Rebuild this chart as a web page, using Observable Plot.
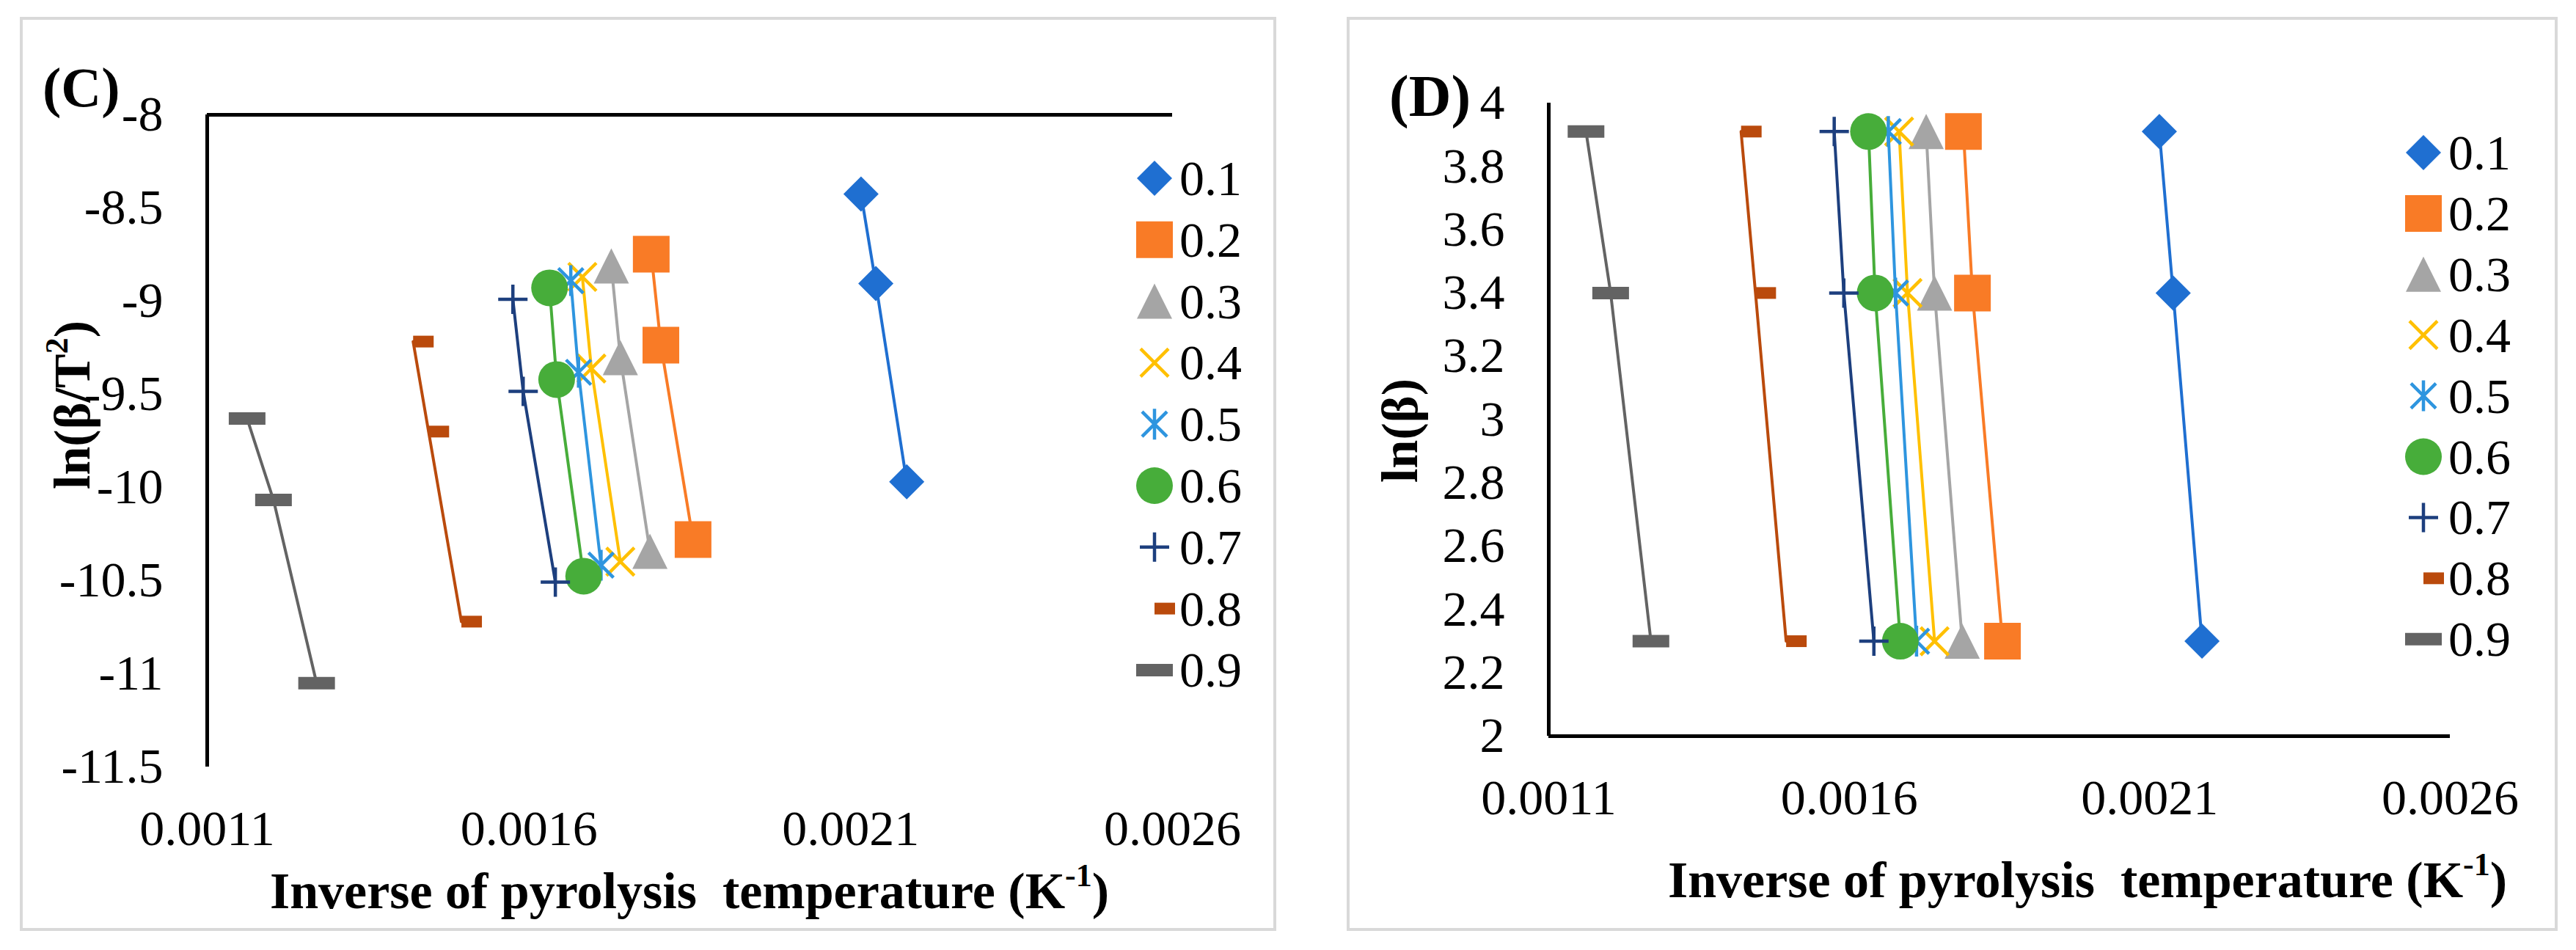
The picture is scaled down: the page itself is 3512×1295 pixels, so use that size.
<!DOCTYPE html>
<html>
<head>
<meta charset="utf-8">
<script src="https://cdn.jsdelivr.net/npm/d3@7"></script>
<script src="https://cdn.jsdelivr.net/npm/@observablehq/plot@0.6"></script>
<style>
html, body { margin: 0; padding: 0; background: #fff; }
#root { position: relative; width: 3512px; height: 1295px; overflow: hidden; background: #fff;
  font-family: "Liberation Serif", "Times New Roman", serif; }
.frame { position: absolute; border: 4px solid #d9d9d9; box-sizing: border-box; }
#root > svg { position: absolute; top: 0; }
</style>
</head>
<body>
<div id="root"></div>
<script>
// ---------------- data ----------------
const series = ["0.1", "0.2", "0.3", "0.4", "0.5", "0.6", "0.7", "0.8", "0.9"];
const colors = ["#1f6fd1", "#f97b26", "#a5a5a5", "#ffc000", "#2e95df", "#47ad3a", "#1d3f7e", "#ba4a0c", "#636363"];
const markers = ["diamond", "square", "triangle", "times", "asterisk", "circle", "plus", "shortDash", "longDash"];

const xDomain = [0.0011, 0.0026];
const xTicks = [0.0011, 0.0016, 0.0021, 0.0026];
const yDomainC = [-11.5, -8];
const yTicksC = [-8, -8.5, -9, -9.5, -10, -10.5, -11, -11.5];
const yDomainD = [2, 4];
const yTicksD = [2, 2.2, 2.4, 2.6, 2.8, 3, 3.2, 3.4, 3.6, 3.8, 4];

// inverse temperature (1/K) for each conversion, at heating rates 50, 30, 10
const invT = [
  [0.002116, 0.002139, 0.002187],
  [0.001790, 0.001805, 0.001855],
  [0.001728, 0.001742, 0.001788],
  [0.001683, 0.001697, 0.001742],
  [0.001665, 0.001677, 0.001712],
  [0.001632, 0.001643, 0.001685],
  [0.001575, 0.001591, 0.001641],
  [0.001420, 0.001444, 0.001495],
  [0.001162, 0.001203, 0.001270]
];
// panel (C): ln(beta/T^2)
const lnBetaT2 = [
  [-8.425, -8.906, -9.969],
  [-8.748, -9.236, -10.280],
  [-8.811, -9.303, -10.343],
  [-8.870, -9.362, -10.398],
  [-8.890, -9.382, -10.417],
  [-8.929, -9.421, -10.476],
  [-8.990, -9.484, -10.508],
  [-9.217, -9.700, -10.720],
  [-9.630, -10.067, -11.050]
];
// panel (D): ln(beta)
const lnBeta = [3.91, 3.40, 2.30];

// ---------------- marker shapes (Excel-like) ----------------
const symbols = {
  diamond:  {draw(c) { const h = 24; c.moveTo(0, -h); c.lineTo(h, 0); c.lineTo(0, h); c.lineTo(-h, 0); c.closePath(); }},
  square:   {draw(c) { c.rect(-25, -25, 50, 50); }},
  triangle: {draw(c) { c.moveTo(0, -24); c.lineTo(24, 24); c.lineTo(-24, 24); c.closePath(); }},
  times:    {draw(c) { const h = 19; c.moveTo(-h, -h); c.lineTo(h, h); c.moveTo(h, -h); c.lineTo(-h, h); }},
  asterisk: {draw(c) { const h = 17; c.moveTo(-h, -h); c.lineTo(h, h); c.moveTo(h, -h); c.lineTo(-h, h); c.moveTo(0, -21); c.lineTo(0, 21); }},
  circle:   {draw(c) { c.moveTo(25, 0); c.arc(0, 0, 25, 0, 2 * Math.PI); }},
  plus:     {draw(c) { const h = 20; c.moveTo(-h, 0); c.lineTo(h, 0); c.moveTo(0, -h); c.lineTo(0, h); }},
  shortDash:{draw(c) { c.rect(0, -8, 28, 16); }},
  longDash: {draw(c) { c.rect(-25, -8.5, 50, 17); }}
};
const stroked = new Set(["times", "asterisk", "plus"]);
function markStyle(i) {
  const m = markers[i];
  return stroked.has(m)
    ? {fill: "none", stroke: colors[i], strokeWidth: 4.5}
    : {fill: colors[i], stroke: "none"};
}

const root = document.getElementById("root");

// frames
[[27, 23, 1740, 1269], [1836, 23, 3487, 1269]].forEach(([l, t, r, b]) => {
  const f = document.createElement("div");
  f.className = "frame";
  Object.assign(f.style, {left: l + "px", top: t + "px", width: (r - l) + "px", height: (b - t) + "px"});
  root.appendChild(f);
});

function panel({yOf, yDomain, yTicks, hLine, margins, left}) {
  const marks = [
    Plot.axisX({ticks: xTicks, tickSize: 0, tickPadding: 58, tickFormat: d => d.toFixed(4),
      fontSize: 68, label: null}),
    Plot.axisY({ticks: yTicks, tickSize: 0, tickPadding: 60, tickFormat: d => String(d),
      fontSize: 68, label: null}),
    Plot.ruleY([hLine], {stroke: "#000", strokeWidth: 5}),
    Plot.ruleX([xDomain[0]], {stroke: "#000", strokeWidth: 5})
  ];
  series.forEach((s, i) => {
    const rows = invT[i].map((x, j) => ({series: s, x, y: yOf(i, j)}));
    marks.push(Plot.line(rows, {x: "x", y: "y", stroke: colors[i], strokeWidth: 4}));
    marks.push(Plot.dot(rows, {x: "x", y: "y", r: 10, symbol: symbols[markers[i]], ...markStyle(i)}));
  });
  const svg = Plot.plot({
    width: 1756, height: 1295,
    marginLeft: margins[0], marginRight: margins[1], marginTop: margins[2], marginBottom: margins[3],
    style: {fontFamily: '"Liberation Serif", "Times New Roman", serif', fontSize: "68px",
      color: "#000", background: "transparent", overflow: "visible"},
    x: {domain: xDomain},
    y: {domain: yDomain},
    marks
  });
  svg.style.left = left + "px";
  root.appendChild(svg);
}

panel({yOf: (i, j) => lnBetaT2[i][j], yDomain: yDomainC, yTicks: yTicksC, hLine: yDomainC[1],
  margins: [282, 158, 156, 250], left: 0});
panel({yOf: (i, j) => lnBeta[j], yDomain: yDomainD, yTicks: yTicksD, hLine: yDomainD[0],
  margins: [355, 172, 140, 292], left: 1756});

// ---------------- titles and legends ----------------
const NS = "http://www.w3.org/2000/svg";
const ov = document.createElementNS(NS, "svg");
ov.setAttribute("width", 3512); ov.setAttribute("height", 1295);
ov.style.left = "0px";
ov.setAttribute("font-family", '"Liberation Serif", "Times New Roman", serif');
root.appendChild(ov);

function addText(attrs, html) {
  const t = document.createElementNS(NS, "text");
  for (const k in attrs) t.setAttribute(k, attrs[k]);
  t.innerHTML = html;
  ov.appendChild(t);
  return t;
}
addText({x: 58, y: 145, "font-size": 76, "font-weight": "bold"}, "(C)");
addText({x: 1894, y: 158, "font-size": 80, "font-weight": "bold"}, "(D)");

addText({transform: "translate(122,552) rotate(-90)", "text-anchor": "middle", "font-size": 70, "font-weight": "bold"},
  'ln(β/T<tspan font-size="44" dy="-30">2</tspan><tspan dy="30">)</tspan>');
addText({transform: "translate(1932,587) rotate(-90)", "text-anchor": "middle", "font-size": 70, "font-weight": "bold"},
  'ln(β)');

const xTitle = 'Inverse of pyrolysis&#160; temperature (K<tspan font-size="44" dy="-30">-1</tspan><tspan dy="30">)</tspan>';
addText({x: 940, y: 1238, "text-anchor": "middle", "font-size": 70, "font-weight": "bold"}, xTitle);
addText({x: 2846, y: 1223, "text-anchor": "middle", "font-size": 70, "font-weight": "bold"}, xTitle);

function legend(cx, y0, step) {
  series.forEach((s, i) => {
    const cy = y0 + i * step;
    const p = d3.path();
    symbols[markers[i]].draw(p);
    const st = markStyle(i);
    const path = document.createElementNS(NS, "path");
    path.setAttribute("d", p.toString());
    path.setAttribute("transform", `translate(${cx},${cy})`);
    path.setAttribute("fill", st.fill);
    path.setAttribute("stroke", st.stroke);
    if (st.strokeWidth) path.setAttribute("stroke-width", st.strokeWidth);
    ov.appendChild(path);
    addText({x: cx + 34, y: cy + 23, "font-size": 68}, s);
  });
}
legend(1574, 243, 83.8);
legend(3304, 208, 82.9);
</script>
</body>
</html>
